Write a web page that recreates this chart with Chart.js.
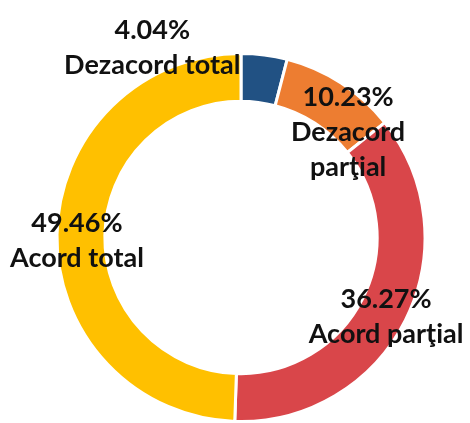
<!DOCTYPE html>
<html>
<head>
<meta charset="utf-8">
<script src="https://cdn.jsdelivr.net/npm/chart.js@4"></script>
<style>
html,body{margin:0;padding:0;background:#fff;}
#wrap{width:470px;height:423px;}
</style>
</head>
<body>
<div id="wrap"><canvas id="c" width="470" height="423"></canvas></div>
<script>
const categories = ["Dezacord total", "Dezacord parţial", "Acord parţial", "Acord total"];
const values = [4.04, 10.23, 36.27, 49.46];
const percentLabels = ["4.04%", "10.23%", "36.27%", "49.46%"];
const labelLines = [["Dezacord total"], ["Dezacord", "parţial"], ["Acord parţial"], ["Acord total"]];
const colors = ["#215183", "#ED7D31", "#D9464A", "#FFC000"];

// label block offsets from slice mid-point (dx, dy) — layout only
const labelOffsets = [[-109, -31], [20, 29], [2, 7], [-4, 6]];
const lineHeight = 35;

const labelPlugin = {
  id: 'sliceLabels',
  afterDatasetsDraw(chart) {
    const ctx = chart.ctx;
    const meta = chart.getDatasetMeta(0);
    ctx.save();
    ctx.font = 'bold 27px Lato, "Liberation Sans", sans-serif';
    ctx.fillStyle = '#111';
    ctx.textAlign = 'center';
    ctx.textBaseline = 'middle';
    meta.data.forEach((arc, i) => {
      const p = arc.tooltipPosition();
      const lines = [percentLabels[i]].concat(labelLines[i]);
      const cx = p.x + labelOffsets[i][0];
      const cy = p.y + labelOffsets[i][1];
      const top = cy - (lines.length - 1) * lineHeight / 2;
      lines.forEach((t, k) => ctx.fillText(t, cx, top + k * lineHeight));
    });
    ctx.restore();
  }
};

new Chart(document.getElementById('c'), {
  type: 'doughnut',
  data: {
    labels: categories,
    datasets: [{
      data: values,
      backgroundColor: colors,
      borderColor: '#ffffff',
      borderWidth: 3,
      hoverOffset: 0
    }]
  },
  options: {
    responsive: false,
    animation: false,
    cutout: '74%',
    layout: { padding: { top: 52, bottom: 0, left: 55, right: 43 } },
    plugins: { legend: { display: false }, tooltip: { enabled: false } }
  },
  plugins: [labelPlugin]
});
</script>
</body>
</html>
